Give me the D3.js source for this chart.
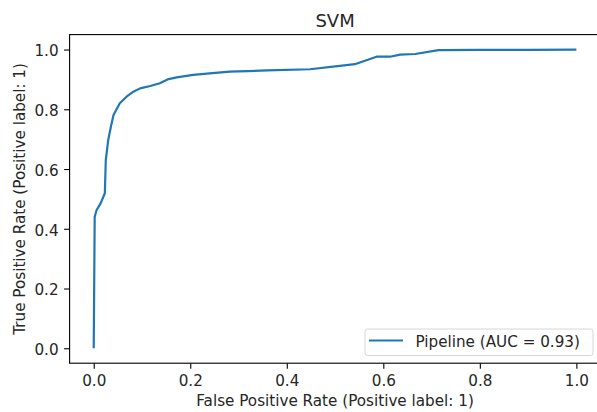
<!DOCTYPE html>
<html>
<head>
<meta charset="utf-8">
<script src="https://cdn.jsdelivr.net/npm/d3@7"></script>
<style>
  html, body { margin: 0; padding: 0; background: #fff; }
  svg { display: block; font-family: "DejaVu Sans", sans-serif; }
</style>
</head>
<body>
<svg id="chart" width="597" height="412"></svg>
<script>
// ROC curve
const fpr = [0, 0.002, 0.006, 0.0145, 0.023, 0.025, 0.030, 0.036, 0.041, 0.054, 0.068, 0.082,
  0.096, 0.117, 0.137, 0.155, 0.172, 0.206, 0.240, 0.282, 0.360, 0.448, 0.510, 0.541,
  0.586, 0.614, 0.635, 0.666, 0.714, 0.800, 0.900, 1.0];
const tpr = [0, 0.44, 0.463, 0.486, 0.519, 0.63, 0.697, 0.745, 0.781, 0.820, 0.842, 0.859,
  0.870, 0.878, 0.887, 0.901, 0.907, 0.915, 0.920, 0.926, 0.930, 0.934, 0.945, 0.951,
  0.976, 0.976, 0.983, 0.985, 0.998, 0.999, 0.999, 1.0];
const ticks = [0, 0.2, 0.4, 0.6, 0.8, 1.0];
const legendLabel = "Pipeline (AUC = 0.93)";

const svg = d3.select("#chart");
const m = { left: 69.6, right: 600.5, top: 34.6, bottom: 363.2 };
const fs = 15.2;

const x = d3.scaleLinear().domain([-0.05, 1.05]).range([m.left, m.right]);
const y = d3.scaleLinear().domain([-0.05, 1.05]).range([m.bottom, m.top]);

const points = fpr.map((f, i) => [f, tpr[i]]);

// curve
svg.append("path")
  .datum(points)
  .attr("fill", "none")
  .attr("stroke", "#1f77b4")
  .attr("stroke-width", 2.2)
  .attr("stroke-linejoin", "round")
  .attr("stroke-linecap", "butt")
  .attr("d", d3.line().x(d => x(d[0])).y(d => y(d[1])));

// axes
const xAxis = svg.append("g")
  .attr("transform", `translate(0,${m.bottom})`)
  .call(d3.axisBottom(x).tickValues(ticks).tickFormat(d3.format(".1f")).tickSizeOuter(0).tickSize(5.5).tickPadding(6.5));
const yAxis = svg.append("g")
  .attr("transform", `translate(${m.left},0)`)
  .call(d3.axisLeft(y).tickValues(ticks).tickFormat(d3.format(".1f")).tickSizeOuter(0).tickSize(5.5).tickPadding(5.5));

[xAxis, yAxis].forEach(g => {
  g.select(".domain").remove();
  g.selectAll("line").attr("stroke", "#000").attr("stroke-width", 1.1);
  g.selectAll("text").attr("font-size", fs).attr("fill", "#262626")
    .attr("font-family", "DejaVu Sans, sans-serif");
});
yAxis.selectAll("text").attr("dy", "0.42em");

// spines
svg.append("rect")
  .attr("x", m.left).attr("y", m.top)
  .attr("width", m.right - m.left).attr("height", m.bottom - m.top)
  .attr("fill", "none").attr("stroke", "#000").attr("stroke-width", 1.1);

// title and labels
svg.append("text")
  .attr("x", (m.left + m.right) / 2).attr("y", 26.5)
  .attr("text-anchor", "middle").attr("font-size", 18).attr("fill", "#262626")
  .text("SVM");

svg.append("text")
  .attr("x", (m.left + m.right) / 2).attr("y", 406)
  .attr("text-anchor", "middle").attr("font-size", fs).attr("fill", "#262626")
  .text("False Positive Rate (Positive label: 1)");

svg.append("text")
  .attr("transform", `translate(24.5,${(m.top + m.bottom) / 2}) rotate(-90)`)
  .attr("text-anchor", "middle").attr("font-size", fs).attr("fill", "#262626")
  .text("True Positive Rate (Positive label: 1)");

// legend
const lg = svg.append("g");
lg.append("rect")
  .attr("x", 365).attr("y", 329).attr("width", 228).attr("height", 26.5)
  .attr("rx", 2.5).attr("fill", "#fff").attr("stroke", "#d6d6d6").attr("stroke-width", 1);
lg.append("line")
  .attr("x1", 369).attr("x2", 403).attr("y1", 340.5).attr("y2", 340.5)
  .attr("stroke", "#1f77b4").attr("stroke-width", 2.2);
lg.append("text")
  .attr("x", 415.5).attr("y", 347)
  .attr("font-size", fs).attr("fill", "#262626")
  .text(legendLabel);
</script>
</body>
</html>
